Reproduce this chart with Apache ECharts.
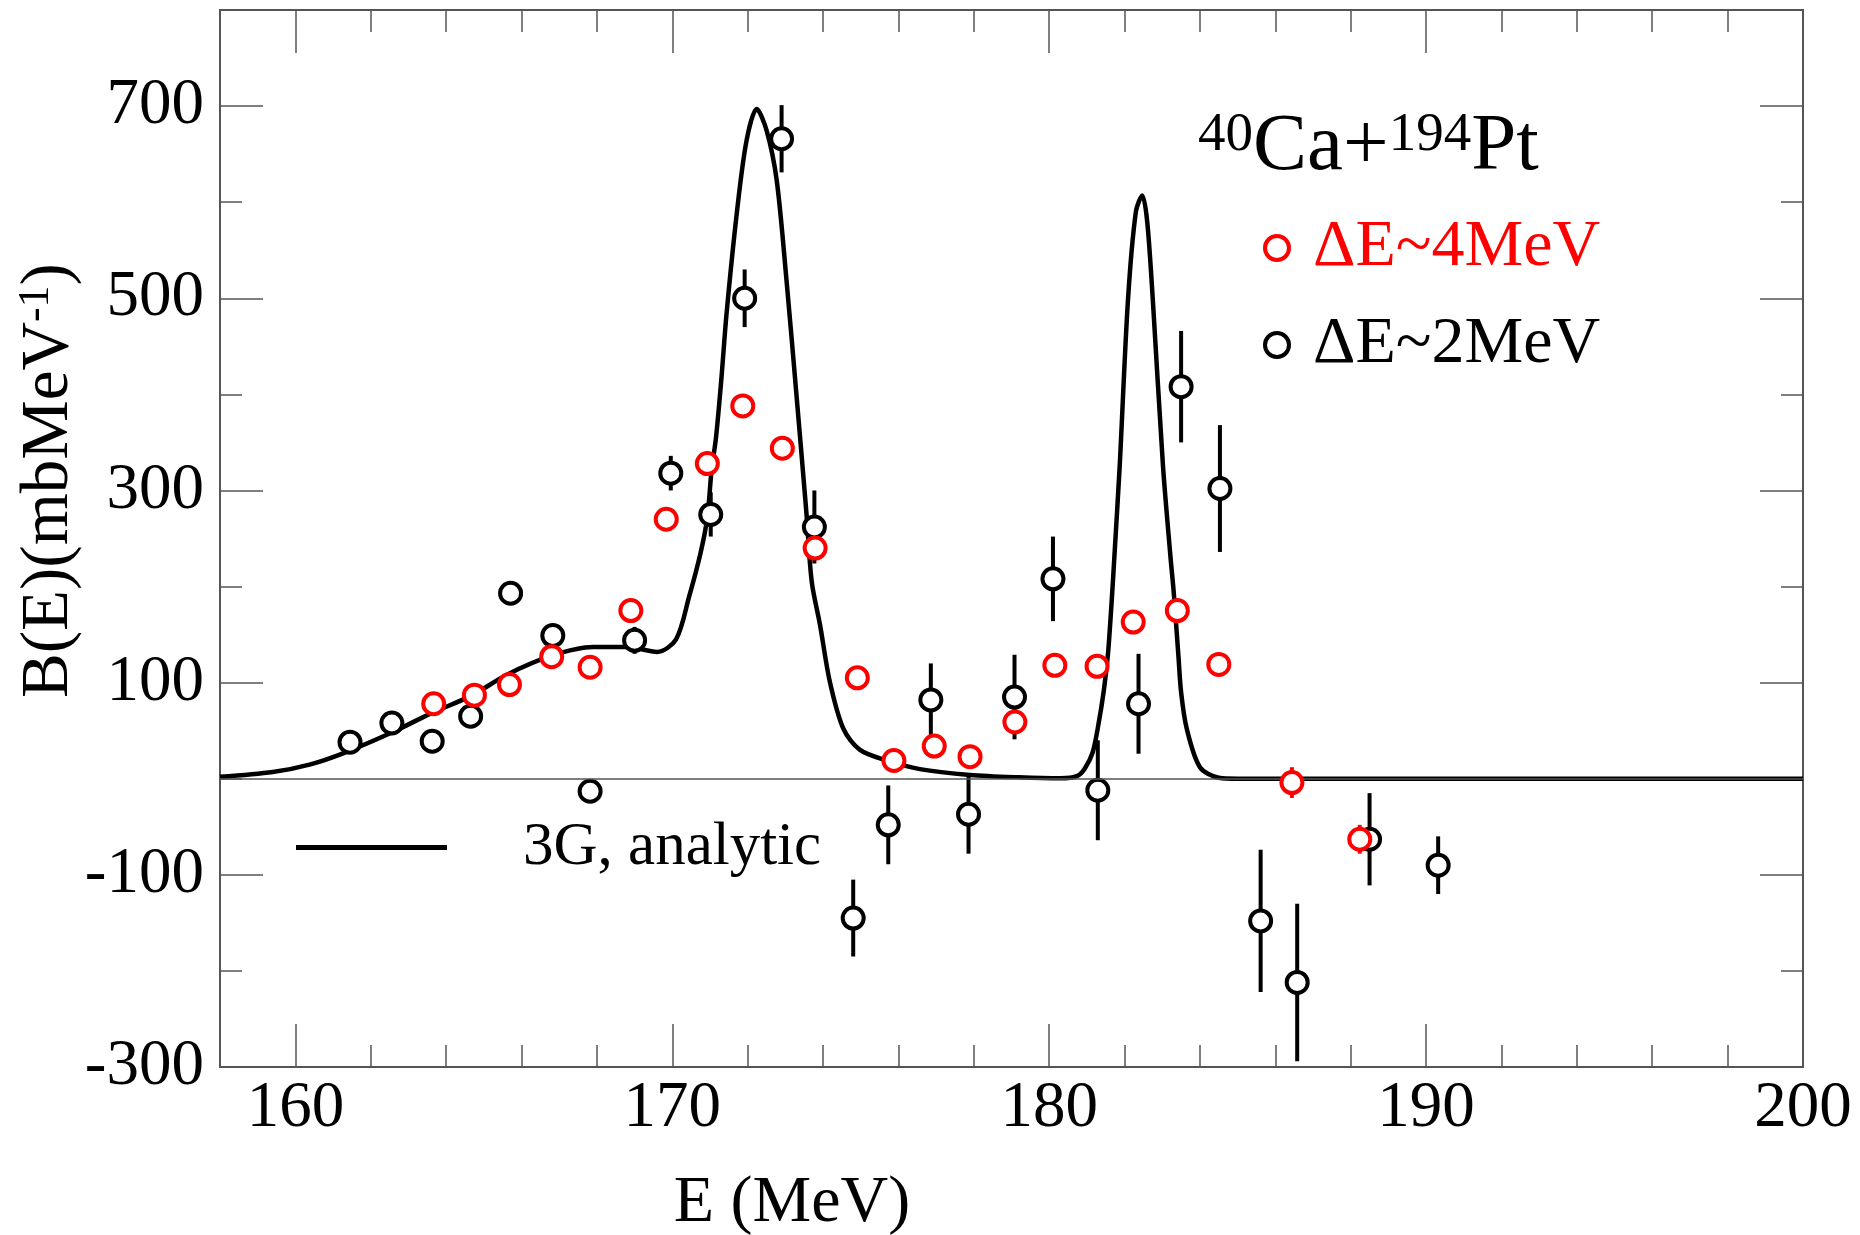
<!DOCTYPE html>
<html>
<head>
<meta charset="utf-8">
<script src="https://cdn.jsdelivr.net/npm/echarts@6.0.0/dist/echarts.min.js"></script>
<style>
html, body { margin: 0; padding: 0; background: #fff; }
#chart { width: 1860px; height: 1235px; }
</style>
</head>
<body>
<div id="chart"></div>
<script>
// tick positions
var xMajor = [160, 170, 180, 190, 200];
var xMinor = [162, 164, 166, 168, 172, 174, 176, 178, 182, 184, 186, 188, 192, 194, 196, 198];
var yMajor = [-300, -100, 100, 300, 500, 700];
var yMinor = [-200, 0, 200, 400, 600];

// dE~2MeV points (black) : energy, B(E), error
var e2 = [161.45, 162.56, 163.63, 164.65, 165.71, 166.83, 167.82, 169.0, 169.96, 171.02, 171.92, 172.9, 173.77, 174.8,
          175.73, 176.86, 177.86, 179.08, 180.1, 181.29, 182.37, 183.5, 184.53, 185.61, 186.58, 188.5, 190.32];
var b2 = [38, 58, 39, 65, 193, 149, -13, 144, 318, 275, 500, 666, 262, -145,
          -48, 82, -37, 85, 208, -12, 78, 408, 302, -148, -212, -63, -90];
var err2 = [0, 0, 0, 0, 0, 0, 0, 14, 18, 23, 30, 35, 38, 40,
            41, 38, 41, 44, 44, 52, 52, 58, 66, 74, 82, 48, 30];

// dE~4MeV points (red)
var e4 = [163.67, 164.75, 165.68, 166.8, 167.82, 168.9, 169.84, 170.93, 171.87, 172.92, 173.79, 174.91,
          175.88, 176.95, 177.9, 179.09, 180.15, 181.27, 182.23, 183.4, 184.5, 186.44, 188.24];
var b4 = [78, 87, 98, 127, 116, 175, 270, 328, 388, 344, 240, 105,
          19, 34, 23, 59, 118, 117, 163, 175, 119, -4, -63];
var err4 = [0, 0, 0, 0, 0, 0, 0, 0, 0, 0, 0, 0,
            0, 0, 0, 0, 0, 0, 0, 6, 8, 16, 15];

// 3G analytic curve
var curveE = [158.0, 159.4, 160.4, 161.3, 162.5, 163.6, 164.7, 165.6, 166.8, 167.9, 168.8, 169.6, 170.1, 170.45,
              170.75, 170.93, 171.04, 171.16, 171.3, 171.44, 171.71, 171.97, 172.24, 172.5, 172.77, 173.03, 173.3,
              173.56, 173.7, 173.92, 174.18, 174.54, 174.98, 175.69, 176.57, 177.9, 179.2, 180.3, 180.75, 180.95,
              181.15, 181.3, 181.45, 181.56, 181.66, 181.74, 181.87, 182.09, 182.3, 182.47, 182.6, 182.75, 183.02,
              183.22, 183.3, 183.43, 183.5, 183.65, 184.0, 184.5, 185.0, 200.0];
var curveB = [2, 7, 15, 27, 47, 68, 87, 108, 128, 137, 137, 132, 145, 190,
              235, 272, 320, 355, 415, 484, 588, 664, 697, 675, 623, 519, 397,
              276, 205, 160, 101, 52, 30, 19, 10, 4, 1.5, 0.5, 3, 11,
              27, 55, 92, 130, 186, 238, 325, 498, 590, 607, 580, 498, 325,
              230, 196, 127, 90, 52, 12, 1, 0, 0];

var font = 'Liberation Serif';
var frame = '#555';

function pairs(xs, ys, es) {
  var out = [];
  for (var i = 0; i < xs.length; i++) {
    out.push(es ? [xs[i], ys[i], es[i]] : [xs[i], ys[i]]);
  }
  return out;
}

// one axis that only carries a set of inside ticks
function tickAxis(kind, pos, ticks, len) {
  var ax = {
    type: 'value',
    position: pos,
    axisLine: { show: true, onZero: false, lineStyle: { color: frame, width: 2 } },
    axisTick: { show: true, inside: true, length: len, customValues: ticks, lineStyle: { color: frame, width: 1.5 } },
    axisLabel: { show: false },
    splitLine: { show: false }
  };
  if (kind == 'x') { ax.min = 158; ax.max = 200; } else { ax.min = -300; ax.max = 800; }
  return ax;
}

function errorBars(color) {
  return function (params, api) {
    var x = api.value(0), y = api.value(1), e = api.value(2);
    if (!e) return null;
    var p1 = api.coord([x, y - e]);
    var p2 = api.coord([x, y + e]);
    return {
      type: 'line',
      shape: { x1: p1[0], y1: p1[1], x2: p2[0], y2: p2[1] },
      style: { stroke: color, lineWidth: 4 }
    };
  };
}

// legend for one set of points
function pointLegend(name, color, top) {
  return {
    data: [name],
    orient: 'vertical',
    left: 1263,
    top: top,
    padding: 0,
    itemWidth: 24,
    itemHeight: 24,
    selectedMode: false,
    itemStyle: { borderWidth: 4, opacity: 1 },
    textStyle: { fontSize: 66, fontFamily: font, color: color, padding: [0, 0, 0, 19] }
  };
}

var xAxes = [
  tickAxis('x', 'bottom', xMajor, 43),
  tickAxis('x', 'bottom', xMinor, 22),
  tickAxis('x', 'top', xMajor, 43),
  tickAxis('x', 'top', xMinor, 22)
];
xAxes[0].axisLabel = { show: true, customValues: xMajor, fontSize: 65, fontFamily: font, color: '#000', margin: 9 };
xAxes[0].name = 'E (MeV)';
xAxes[0].nameLocation = 'middle';
xAxes[0].nameGap = 104;
xAxes[0].nameTextStyle = { fontSize: 66, fontFamily: font, color: '#000', padding: [0, 439, 0, 0] };

var yAxes = [
  tickAxis('y', 'left', yMajor, 43),
  tickAxis('y', 'left', yMinor, 22),
  tickAxis('y', 'right', yMajor, 43),
  tickAxis('y', 'right', yMinor, 22)
];
yAxes[0].axisLabel = { show: true, customValues: yMajor, fontSize: 65, fontFamily: font, color: '#000', margin: 16 };
yAxes[0].name = '{a|B(E)(mbMeV}{s|-1}{a|)}';
yAxes[0].nameLocation = 'middle';
yAxes[0].nameGap = 136;
yAxes[0].nameMoveOverlap = false;
yAxes[0].nameTextStyle = {
  color: '#000',
  padding: [0, 0, 0, 116],
  rich: {
    a: { fontSize: 67, fontFamily: font, color: '#000', lineHeight: 70 },
    s: { fontSize: 44, fontFamily: font, color: '#000', lineHeight: 38, verticalAlign: 'top' }
  }
};

var chart = echarts.init(document.getElementById('chart'));
chart.setOption({
  animation: false,
  backgroundColor: '#fff',
  textStyle: { fontFamily: font },
  title: {
    text: '{s|40}{m|Ca+}{s|194}{m|Pt}',
    left: 1198,
    top: 108,
    padding: 0,
    textStyle: {
      fontWeight: 'normal',
      rich: {
        m: { fontSize: 81, fontFamily: font, fontWeight: 'normal', color: '#000', lineHeight: 80 },
        s: { fontSize: 55, fontFamily: font, fontWeight: 'normal', color: '#000', lineHeight: 40, verticalAlign: 'top' }
      }
    }
  },
  legend: [
    pointLegend('ΔE~4MeV', '#ff0000', 215),
    pointLegend('ΔE~2MeV', '#000', 312),
    {
      data: [{ name: '3G, analytic', icon: 'rect' }],
      left: 296,
      top: 817,
      padding: 0,
      itemWidth: 151,
      itemHeight: 5,
      selectedMode: false,
      textStyle: { fontSize: 61, fontFamily: font, color: '#000', padding: [0, 0, 0, 71] }
    }
  ],
  grid: { left: 220, right: 57, top: 10, bottom: 168, containLabel: false, outerBoundsMode: 'none' },
  xAxis: xAxes,
  yAxis: yAxes,
  series: [{
    name: '3G, analytic',
    type: 'line',
    data: pairs(curveE, curveB),
    smooth: 0.3,
    symbol: 'none',
    lineStyle: { color: '#000', width: 4.5 },
    itemStyle: { color: '#000' },
    z: 2,
    markLine: {
      silent: true,
      symbol: ['none', 'none'],
      label: { show: false },
      lineStyle: { color: frame, width: 1.5, type: 'solid' },
      data: [{ yAxis: 0 }]
    }
  }, {
    type: 'custom',
    data: pairs(e2, b2, err2),
    renderItem: errorBars('#000'),
    encode: { x: 0, y: 1 },
    z: 3
  }, {
    name: 'ΔE~2MeV',
    type: 'scatter',
    data: pairs(e2, b2),
    symbol: 'circle',
    symbolSize: 21,
    itemStyle: { color: '#fff', borderColor: '#000', borderWidth: 4, opacity: 1 },
    z: 4
  }, {
    type: 'custom',
    data: pairs(e4, b4, err4),
    renderItem: errorBars('#ff0000'),
    encode: { x: 0, y: 1 },
    z: 5
  }, {
    name: 'ΔE~4MeV',
    type: 'scatter',
    data: pairs(e4, b4),
    symbol: 'circle',
    symbolSize: 21,
    itemStyle: { color: '#fff', borderColor: '#ff0000', borderWidth: 4, opacity: 1 },
    z: 6
  }]
});
</script>
</body>
</html>
